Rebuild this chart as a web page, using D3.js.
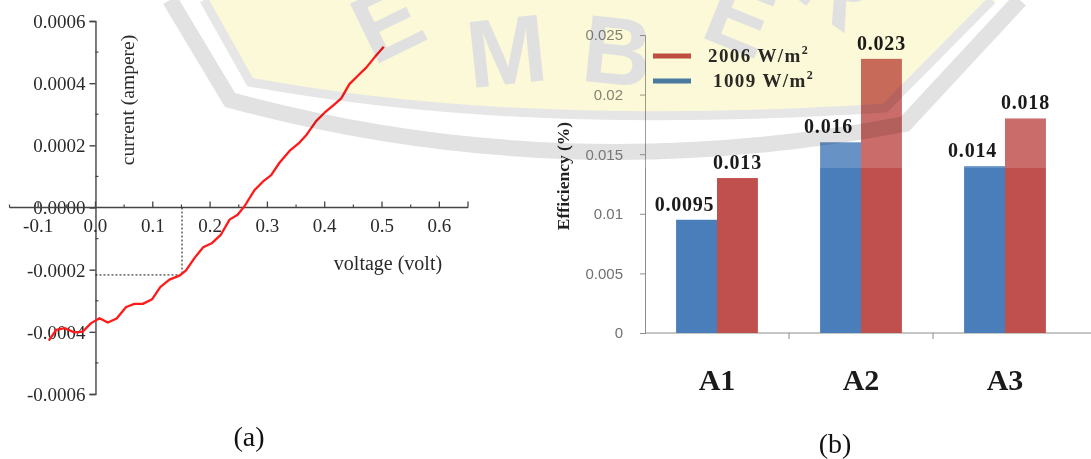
<!DOCTYPE html>
<html>
<head>
<meta charset="utf-8">
<script src="https://cdn.jsdelivr.net/npm/d3@7"></script>
<style>
  html, body { margin: 0; padding: 0; background: #fff; }
  svg { display: block; }
  .seal { mix-blend-mode: multiply; }
</style>
</head>
<body>
<svg id="fig" width="1091" height="459"></svg>
<script>
// ---- Panel (a): I–V curve ----
const voltage = [
  -0.0815, -0.0686, -0.054, -0.0366, -0.022, -0.0075, 0.007, 0.0215, 0.037, 0.0535,
  0.068, 0.0826, 0.099, 0.113, 0.129, 0.1466, 0.158, 0.173, 0.188, 0.2036,
  0.219, 0.234, 0.248, 0.26, 0.2775, 0.292, 0.3066, 0.321, 0.3386, 0.356,
  0.3688, 0.385, 0.3997, 0.417, 0.4288, 0.443, 0.4578, 0.4724, 0.487, 0.503
];
const current = [
  -0.000428, -0.000394, -0.000388, -0.000402, -0.000399, -0.000372, -0.000356, -0.00037, -0.000357, -0.00032,
  -0.00031, -0.00031, -0.000295, -0.000256, -0.000232, -0.000219, -0.000202, -0.000162, -0.000128, -0.000114,
  -0.000087, -0.000039, -0.000023, 0.000004, 0.000056, 0.000083, 0.000104, 0.000144, 0.000182, 0.000209,
  0.000235, 0.000278, 0.000305, 0.000332, 0.000351, 0.000397, 0.000424, 0.00045, 0.000483, 0.000517
];
const voltageTicks = [-0.1, 0, 0.1, 0.2, 0.3, 0.4, 0.5, 0.6];
const currentTicks = [-0.0006, -0.0004, -0.0002, 0, 0.0002, 0.0004, 0.0006];
const markVoltage = 0.151;
const markCurrent = -0.000217;

// ---- Panel (b): efficiency bars ----
const cells = ["A1", "A2", "A3"];
const seriesNames = ["1009 W/m", "2006 W/m"];
const eff1009 = [0.0095, 0.016, 0.014];
const eff2006 = [0.013, 0.023, 0.018];
const effLabels1009 = ["0.0095", "0.016", "0.014"];
const effLabels2006 = ["0.013", "0.023", "0.018"];
const effTicks = [0, 0.005, 0.01, 0.015, 0.02, 0.025];

const svg = d3.select("#fig");
const serif = "Liberation Serif, Times New Roman, serif";
const sans = "Liberation Sans, Arial, sans-serif";

// ================= Panel (a) =================
const xV = d3.scaleLinear().domain([-0.15, 0.65]).range([9.5, 468]);
const yI = d3.scaleLinear().domain([-0.0006, 0.0006]).range([394, 21]);
const axisColor = "#454545";
const pa = svg.append("g");

// y axis
const yAx = pa.append("g").attr("transform", `translate(${xV(0)},0)`)
  .call(d3.axisLeft(yI).tickValues(currentTicks).tickSize(6).tickPadding(4)
    .tickFormat(d => d3.format(".4f")(d).replace("−", "-")));
yAx.select(".domain").attr("stroke", axisColor).attr("stroke-width", 1.4);
yAx.selectAll(".tick line").attr("stroke", axisColor).attr("stroke-width", 1.4);
yAx.selectAll(".tick text").style("font-family", serif).style("font-size", "19px")
  .attr("fill", "#2a2a2a").attr("dy", "0.34em");
yAx.append("g").selectAll("line")
  .data(d3.range(-0.0005, 0.0006, 0.0002))
  .join("line")
  .attr("x1", 0).attr("x2", 3)
  .attr("y1", d => yI(d)).attr("y2", d => yI(d))
  .attr("stroke", axisColor).attr("stroke-width", 1.2);

// x axis (ticks point upward, labels beneath)
const xAx = pa.append("g").attr("transform", `translate(0,${yI(0)})`);
xAx.append("line").attr("x1", xV(-0.15)).attr("x2", xV(0.65))
  .attr("stroke", axisColor).attr("stroke-width", 1.4);
xAx.selectAll("line.maj").data(voltageTicks.concat([0.65])).join("line")
  .attr("class", "maj")
  .attr("x1", d => xV(d)).attr("x2", d => xV(d)).attr("y1", -6).attr("y2", 0)
  .attr("stroke", axisColor).attr("stroke-width", 1.3);
xAx.selectAll("line.min").data(d3.range(-0.15, 0.6, 0.1)).join("line")
  .attr("class", "min")
  .attr("x1", d => xV(d)).attr("x2", d => xV(d)).attr("y1", -3).attr("y2", 0)
  .attr("stroke", axisColor).attr("stroke-width", 1.2);
xAx.selectAll("text").data(voltageTicks).join("text")
  .attr("x", d => xV(d)).attr("y", 24)
  .attr("text-anchor", "middle")
  .style("font-family", serif).style("font-size", "19px").attr("fill", "#2a2a2a")
  .text(d => d3.format(".1f")(d).replace("−", "-"));

// axis titles
pa.append("text")
  .attr("transform", `translate(134,100) rotate(-90)`)
  .attr("text-anchor", "middle")
  .style("font-family", serif).style("font-size", "19.5px").attr("fill", "#2a2a2a")
  .text("current (ampere)");
pa.append("text")
  .attr("x", 388).attr("y", 270)
  .attr("text-anchor", "middle")
  .style("font-family", serif).style("font-size", "20px").attr("fill", "#2a2a2a")
  .text("voltage (volt)");

// dotted guide lines to the marked operating point
pa.append("path")
  .attr("d", `M${xV(markVoltage)},${yI(0)} V${yI(markCurrent)} H${xV(0)}`)
  .attr("fill", "none").attr("stroke", "#111").attr("stroke-width", 1)
  .attr("stroke-dasharray", "2,2");

// curve
const ivPoints = voltage.map((v, i) => [v, current[i]]);
pa.append("path")
  .datum(ivPoints)
  .attr("d", d3.line().x(d => xV(d[0])).y(d => yI(d[1])))
  .attr("fill", "none").attr("stroke", "#ff1a1a").attr("stroke-width", 2.3)
  .attr("stroke-linejoin", "round");

pa.append("text")
  .attr("x", 249).attr("y", 446).attr("text-anchor", "middle")
  .style("font-family", serif).style("font-size", "28px").attr("fill", "#111")
  .text("(a)");

// ================= Panel (b) =================
const pb = svg.append("g");
const xC = d3.scaleBand().domain(cells).range([645, 1077]);
const xS = d3.scaleBand().domain(seriesNames).range([0, xC.bandwidth()]).paddingOuter(0.76).paddingInner(0);
const yE = d3.scaleLinear().domain([0, 0.025]).range([333, 35]);
const colors = {"1009 W/m": "#4a7ebb", "2006 W/m": "#c0504d"};
const gridGrey = "#8c8c8c";

// y axis
const yEAx = pb.append("g").attr("transform", `translate(${xC.range()[0]},0)`)
  .call(d3.axisLeft(yE).tickValues(effTicks).tickSize(5).tickPadding(17)
    .tickFormat(d => d3.format("~g")(d)));
yEAx.select(".domain").attr("stroke", gridGrey).attr("stroke-width", 1);
yEAx.selectAll(".tick line").attr("stroke", gridGrey);
yEAx.selectAll(".tick text").style("font-family", sans).style("font-size", "15px")
  .attr("fill", "#707070");

// x axis
const xEAx = pb.append("g").attr("transform", `translate(0,${yE(0)})`);
xEAx.append("line").attr("x1", xC.range()[0]).attr("x2", 1091)
  .attr("stroke", gridGrey).attr("stroke-width", 1);
xEAx.selectAll("line.t").data(cells.slice(1)).join("line").attr("class", "t")
  .attr("x1", d => xC(d)).attr("x2", d => xC(d)).attr("y1", 0).attr("y2", 6)
  .attr("stroke", gridGrey);
xEAx.selectAll("text").data(cells).join("text")
  .attr("x", d => xC(d) + xC.bandwidth() / 2).attr("y", 57)
  .attr("text-anchor", "middle")
  .style("font-family", serif).style("font-weight", "bold").style("font-size", "30px")
  .attr("fill", "#1a1a1a")
  .text(d => d);

// bars
const barRows = cells.flatMap((c, i) => [
  {cell: c, s: seriesNames[0], v: eff1009[i], label: effLabels1009[i], dx: -12},
  {cell: c, s: seriesNames[1], v: eff2006[i], label: effLabels2006[i], dx: 0}
]);
pb.selectAll("rect.bar").data(barRows).join("rect")
  .attr("class", "bar")
  .attr("x", d => xC(d.cell) + xS(d.s))
  .attr("width", xS.bandwidth())
  .attr("y", d => yE(d.v))
  .attr("height", d => yE(0) - yE(d.v))
  .attr("fill", d => colors[d.s]);

// pale wash over the upper part of the plot
pb.append("rect")
  .attr("x", 560).attr("y", 0).attr("width", 531).attr("height", 168)
  .attr("fill", "#fff").attr("opacity", 0.16);

// value labels
pb.selectAll("text.val").data(barRows).join("text")
  .attr("class", "val")
  .attr("x", d => xC(d.cell) + xS(d.s) + xS.bandwidth() / 2 + d.dx)
  .attr("y", d => yE(d.v) - 9)
  .attr("text-anchor", "middle")
  .style("font-family", serif).style("font-weight", "bold").style("font-size", "20px")
  .style("letter-spacing", "0.8px")
  .attr("fill", "#1a1a1a")
  .text(d => d.label);

// y title
pb.append("text")
  .attr("transform", "translate(569,176) rotate(-90)")
  .attr("text-anchor", "middle")
  .style("font-family", serif).style("font-weight", "bold").style("font-size", "17.5px")
  .attr("fill", "#222")
  .text("Efficiency (%)");

// legend
const legendOrder = [seriesNames[1], seriesNames[0]];
const lg = pb.selectAll("g.lg").data(legendOrder).join("g")
  .attr("class", "lg")
  .attr("transform", (d, i) => `translate(653,${56 + i * 25})`);
lg.append("line").attr("x1", 0).attr("x2", 38).attr("y1", 0).attr("y2", 0)
  .attr("stroke", d => colors[d]).attr("stroke-width", 5);
const lgText = lg.append("text")
  .attr("x", (d, i) => i === 0 ? 55 : 60).attr("y", 6)
  .style("font-family", serif).style("font-weight", "bold").style("font-size", "19px")
  .style("letter-spacing", "1.4px")
  .attr("fill", "#2a2a2a");
lgText.append("tspan").text(d => d.replace("W/m", "").trim() + " W/m");
lgText.append("tspan").attr("dy", -8).style("font-size", "12px").text("2");

pb.append("text")
  .attr("x", 835).attr("y", 453).attr("text-anchor", "middle")
  .style("font-family", serif).style("font-size", "28px").attr("fill", "#111")
  .text("(b)");

// ---- faint seal printed over the page ----
const seal = svg.append("g").attr("class", "seal");
seal.append("path")
  .attr("d", "M207,0 L255,82 Q520,128 888,104 L996,0 Z")
  .attr("fill", "#fcf9d8");
seal.append("path")
  .attr("d", "M204,0 L250,82 Q520,132 885,108 L992,0")
  .attr("fill", "none").attr("stroke", "#e6e6e6").attr("stroke-width", 9);
seal.append("path")
  .attr("d", "M170,0 L230,100 Q560,190 905,124 L1020,0")
  .attr("fill", "none").attr("stroke", "#e2e2e2").attr("stroke-width", 16);
const sealLetters = [
  {t: "E", x: 402, y: 52, r: -26},
  {t: "M", x: 510, y: 84, r: -6},
  {t: "B", x: 614, y: 84, r: 6},
  {t: "E", x: 728, y: 48, r: 22},
  {t: "R", x: 818, y: 14, r: 36}
];
seal.selectAll("text.l").data(sealLetters).join("text")
  .attr("class", "l")
  .attr("transform", d => `translate(${d.x},${d.y}) rotate(${d.r})`)
  .attr("text-anchor", "middle")
  .style("font-family", sans).style("font-weight", "bold")
  .style("font-size", "96px").attr("fill", "#e0e0e0")
  .text(d => d.t);
</script>
</body>
</html>
